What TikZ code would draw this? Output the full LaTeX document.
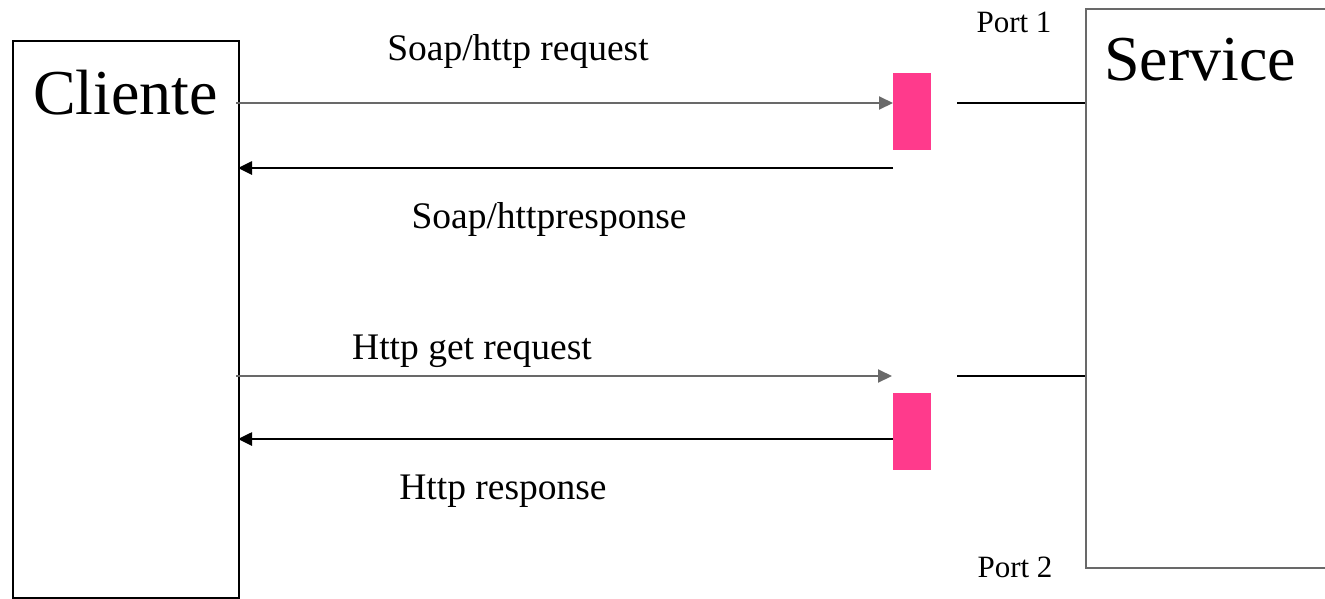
\documentclass[tikz,border=0pt]{standalone}
\usepackage{fontspec}
\setmainfont{Liberation Serif}
\usetikzlibrary{arrows.meta,calc}
\definecolor{portpink}{RGB}{255,58,140}
\definecolor{msggray}{RGB}{105,105,105}
\begin{document}
\begin{tikzpicture}[x=1pt,y=-1pt,
  actor/.style={draw,line width=2pt,inner sep=0pt,anchor=north west},
  portbox/.style={fill=portpink,draw=none,inner sep=0pt,minimum width=38pt,minimum height=77pt,anchor=north west},
  reqarrow/.style={draw=msggray,line width=2pt,-{Triangle[length=14pt,width=13pt]}},
  resarrow/.style={draw=black,line width=2.6pt,-{Triangle[length=14pt,width=13pt]}},
  link/.style={draw=black,line width=2.6pt},
  msg/.style={font=\fontsize{37.5}{42}\selectfont,inner sep=0pt},
  portlabel/.style={font=\fontsize{31}{36}\selectfont,inner sep=0pt},
  big/.style={font=\fontsize{64}{70}\selectfont,inner sep=0pt,anchor=west}
]
\clip (0,0) rectangle (1325,598);

% participants
\node[actor,draw=black,minimum width=226pt,minimum height=557pt] (client) at (12,40) {};
\node[actor,draw=msggray,minimum width=300pt,minimum height=559pt] (service) at (1085,8) {};
\node[big] (clientlbl) at (33,93) {Cliente};
\node[big] (servicelbl) at (1104,60) {Service};

% ports
\node[portbox] (p1) at (893,73) {};
\node[portbox] (p2) at (893,393) {};
\node[portlabel] (p1lbl) at (1014,22) {Port 1};
\node[portlabel] (p2lbl) at (1015,567) {Port 2};

% end points of the messages
\coordinate (c1) at (236,103);
\coordinate (c2) at (238,168);
\coordinate (c3) at (236,376);
\coordinate (c4) at (238,439);
\coordinate (g3) at (892,376);
\coordinate (l1) at (957,103);
\coordinate (l2) at (957,376);

% messages
\draw[reqarrow] (c1) -- (p1.west |- c1);
\draw[resarrow] (p1.west |- c2) -- (c2);
\draw[reqarrow] (c3) -- (g3);
\draw[resarrow] (p2.west |- c4) -- (c4);

% port links to the service
\draw[link] (l1) -- (service.west |- l1);
\draw[link] (l2) -- (service.west |- l2);

% message labels
\node[msg] (m1) at (518,51) {Soap/http request};
\node[msg] (m2) at (549,219) {Soap/httpresponse};
\node[msg] (m3) at (472,351) {Http get request};
\node[msg] (m4) at (503,491) {Http response};
\end{tikzpicture}
\end{document}
